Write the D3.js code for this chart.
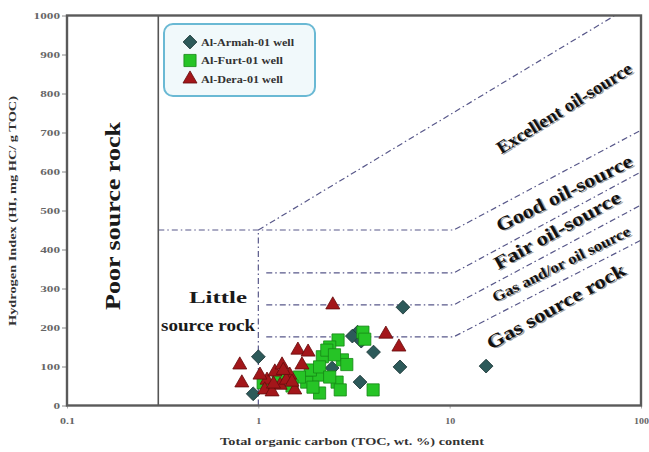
<!DOCTYPE html>
<html>
<head>
<meta charset="utf-8">
<script src="https://cdn.jsdelivr.net/npm/d3@7/dist/d3.min.js"></script>
<style>
  html, body { margin: 0; padding: 0; background: #fff; }
  svg { display: block; }
  text { font-family: "Liberation Serif", "Times New Roman", serif; font-weight: bold; }
</style>
</head>
<body>
<svg id="chart" width="649" height="452"></svg>
<script>
// TOC (wt. %) and HI (mg HC/g TOC) for each well
const armahTOC = [5.7, 3.3, 3.45, 4.0, 5.5, 1.0, 0.94, 3.4, 2.43, 2.03, 15.5, 3.1];
const armahHI  = [252, 188, 165, 137, 99, 125, 30, 60, 96, 91, 101, 178];

const furtTOC = [3.52, 3.6, 2.61, 2.36, 2.75, 2.16, 2.05, 2.58, 2.68, 2.09, 1.79, 1.87, 3.98, 1.06, 1.27, 1.64, 2.28, 2.09, 1.93, 2.36, 2.9, 1.5, 2.5];
const furtHI  = [188, 170, 168, 150, 117, 125, 78, 60, 40, 32, 60, 91, 40, 58, 65, 73, 142, 99, 47, 73, 105, 50, 130];

const deraTOC = [2.45, 4.64, 5.43, 0.80, 0.82, 1.61, 1.82, 1.69, 1.11, 1.22, 1.33, 1.46, 1.30, 1.08, 1.55, 1.18, 1.40, 1.02, 1.20, 1.35, 1.50];
const deraHI  = [258, 183, 150, 104, 58, 142, 137, 104, 65, 86, 104, 78, 52, 40, 40, 35, 65, 78, 55, 90, 60];

const wellNames = ["Al-Armah-01 well", "Al-Furt-01 well", "Al-Dera-01 well"];

const xTickValues = [0.1, 1, 10, 100];
const xTickLabels = ["0.1", "1", "10", "100"];
const yTickValues = [0, 100, 200, 300, 400, 500, 600, 700, 800, 900, 1000];
const yTickLabels = ["0", "100", "200", "300", "400", "500", "600", "700", "800", "900", "1000"];

// Classification boundaries: [TOC, HI] polylines
const poorLimitTOC = 0.3;
const boundaryLines = [
  [[0.3, 450], [10.5, 450], [100, 706]],
  [[1, 450], [73, 1000]],
  [[1, 0], [1, 450]],
  [[1.1, 340], [10.5, 340], [100, 599]],
  [[1.1, 258], [10.5, 258], [100, 514]],
  [[1.1, 176], [10.5, 176], [100, 424]]
];

// Zone labels: text, centre in data units, rotation, font size, drawn length
const zoneLabels = [
  { text: "Excellent oil-source", toc: 39.6, hi: 763, angle: -32, size: 18, len: 156 },
  { text: "Good oil-source", toc: 39.6, hi: 545, angle: -26.5, size: 19, len: 150 },
  { text: "Fair oil-source", toc: 36.4, hi: 450, angle: -29, size: 19, len: 142 },
  { text: "Gas and/or oil source", toc: 38.2, hi: 363, angle: -26.5, size: 15, len: 152 },
  { text: "Gas source rock", toc: 35.9, hi: 255, angle: -29.3, size: 19, len: 156 }
];

const svg = d3.select("#chart");
const plotL = 67, plotR = 641, plotT = 15.5, plotB = 405.5;

const x = d3.scaleLog().domain([0.1, 100]).range([plotL, plotR]);
const y = d3.scaleLinear().domain([0, 1000]).range([plotB, plotT]);

// boundary dash-dot lines
const line = d3.line().x(d => x(d[0])).y(d => y(d[1]));
svg.append("g").selectAll("path").data(boundaryLines).join("path")
  .attr("d", line)
  .attr("fill", "none")
  .attr("stroke", "#58588a")
  .attr("stroke-width", 1.2)
  .attr("stroke-dasharray", "6,3,1.5,3");

// poor source rock limit
svg.append("line")
  .attr("x1", x(poorLimitTOC)).attr("x2", x(poorLimitTOC))
  .attr("y1", y(0)).attr("y2", y(1000))
  .attr("stroke", "#555").attr("stroke-width", 1.6);

// axes
const yAxis = d3.axisLeft(y).tickValues(yTickValues)
  .tickFormat((d, i) => yTickLabels[i]).tickSize(5).tickPadding(2);
const gy = svg.append("g").attr("transform", `translate(${plotL},0)`).call(yAxis);
gy.select(".domain").remove();
gy.selectAll("line").attr("stroke", "#888");
gy.selectAll("text").attr("font-size", 8.5).attr("fill", "#666")
  .style("font-family", "'Liberation Serif', serif")
  .attr("textLength", (d, i) => yTickLabels[i].length * 6.6)
  .attr("lengthAdjust", "spacingAndGlyphs");

const xAxis = d3.axisBottom(x).tickValues(xTickValues)
  .tickFormat((d, i) => xTickLabels[i]).tickSize(3).tickPadding(9);
const gx = svg.append("g").attr("transform", `translate(0,${plotB})`).call(xAxis);
gx.select(".domain").remove();
gx.selectAll("line").attr("stroke", "#aaa");
gx.selectAll("text").attr("font-size", 8.5).attr("fill", "#666")
  .style("font-family", "'Liberation Serif', serif")
  .attr("textLength", (d, i) => xTickLabels[i].length * 5)
  .attr("lengthAdjust", "spacingAndGlyphs");

// frame
svg.append("rect")
  .attr("x", plotL).attr("y", plotT)
  .attr("width", plotR - plotL).attr("height", plotB - plotT)
  .attr("fill", "none").attr("stroke", "#5a5a5a").attr("stroke-width", 2.4);

// zone text
svg.append("text")
  .attr("transform", `translate(120,216) rotate(-90)`)
  .attr("text-anchor", "middle")
  .attr("font-size", 20).attr("fill", "#1a1a1a")
  .attr("textLength", 188).attr("lengthAdjust", "spacingAndGlyphs")
  .text("Poor source rock");

svg.append("text").attr("x", 218).attr("y", 303).attr("text-anchor", "middle")
  .attr("font-size", 17).attr("fill", "#1a1a1a")
  .attr("textLength", 58).attr("lengthAdjust", "spacingAndGlyphs").text("Little");
svg.append("text").attr("x", 208).attr("y", 331).attr("text-anchor", "middle")
  .attr("font-size", 17).attr("fill", "#1a1a1a")
  .attr("textLength", 94).attr("lengthAdjust", "spacingAndGlyphs").text("source rock");

const zl = svg.append("g").selectAll("g").data(zoneLabels).join("g")
  .attr("transform", d => `translate(${x(d.toc)},${y(d.hi)}) rotate(${d.angle})`);
zl.append("text").attr("text-anchor", "middle").attr("dy", "0.35em")
  .attr("x", 1.2).attr("y", 1.4)
  .attr("font-size", d => d.size).attr("fill", "#a0a0a0")
  .attr("textLength", d => d.len).attr("lengthAdjust", "spacingAndGlyphs")
  .text(d => d.text);
zl.append("text").attr("text-anchor", "middle").attr("dy", "0.35em")
  .attr("font-size", d => d.size).attr("fill", "#111")
  .attr("textLength", d => d.len).attr("lengthAdjust", "spacingAndGlyphs")
  .text(d => d.text);

// markers
const diamond = d3.symbol().type(d3.symbolSquare).size(95)();
const square = d3.symbol().type(d3.symbolSquare).size(148)();
const triangle = d3.symbol().type(d3.symbolTriangle).size(85)();

const styles = [
  { path: diamond, fill: "#2d5a5a", stroke: "#1b3535", rot: 45 },
  { path: square, fill: "#26c426", stroke: "#168616", rot: 0 },
  { path: triangle, fill: "#a3161a", stroke: "#650b0b", rot: 0 }
];

const series = [
  armahTOC.map((t, i) => [t, armahHI[i]]),
  furtTOC.map((t, i) => [t, furtHI[i]]),
  deraTOC.map((t, i) => [t, deraHI[i]])
];

series.forEach((pts, si) => {
  const s = styles[si];
  svg.append("g").selectAll("path").data(pts).join("path")
    .attr("d", s.path)
    .attr("transform", d => `translate(${x(d[0])},${y(d[1])}) rotate(${s.rot})`)
    .attr("fill", s.fill).attr("stroke", s.stroke).attr("stroke-width", 0.8);
});

// legend
const legendLens = [93, 82, 82];
const lg = svg.append("g");
lg.append("rect").attr("x", 164).attr("y", 24).attr("width", 151).attr("height", 72)
  .attr("rx", 9).attr("fill", "#f1f9fb").attr("stroke", "#6ab9d4").attr("stroke-width", 2);
const li = lg.selectAll("g").data(wellNames).join("g")
  .attr("transform", (d, i) => `translate(190,${42 + i * 18.5})`);
li.append("path").attr("d", (d, i) => styles[i].path)
  .attr("transform", (d, i) => `rotate(${styles[i].rot})`)
  .attr("fill", (d, i) => styles[i].fill).attr("stroke", (d, i) => styles[i].stroke)
  .attr("stroke-width", 0.8);
li.append("text").attr("x", 11).attr("dy", "0.35em")
  .attr("font-size", 10).attr("fill", "#333")
  .attr("textLength", (d, i) => legendLens[i]).attr("lengthAdjust", "spacingAndGlyphs")
  .text(d => d);

// axis titles
svg.append("text")
  .attr("transform", `translate(16,211) rotate(-90)`)
  .attr("text-anchor", "middle").attr("font-size", 10.5).attr("fill", "#333")
  .attr("textLength", 230).attr("lengthAdjust", "spacingAndGlyphs")
  .text("Hydrogen Index (HI, mg HC/ g TOC)");
svg.append("text").attr("x", 352).attr("y", 445).attr("text-anchor", "middle")
  .attr("font-size", 10.5).attr("fill", "#333")
  .attr("textLength", 264).attr("lengthAdjust", "spacingAndGlyphs")
  .text("Total organic carbon (TOC, wt. %) content");
</script>
</body>
</html>
